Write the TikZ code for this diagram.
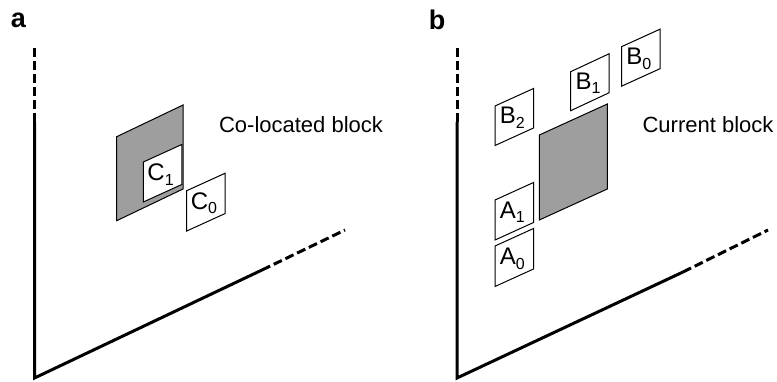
\documentclass[tikz,border=0pt]{standalone}
\usepackage{fontspec}
\setmainfont{Liberation Sans}
\definecolor{panelgray}{RGB}{158,158,158}
% skewed block: name, top-left x, top-left y, width, rise, height, fill
\newcommand\skewblock[7]{%
  \draw[blockline, fill=#7] (#2,#3) -- ++(#4,-#5) -- ++(0,#6) -- ++(-#4,#5) -- cycle;
  \coordinate (#1) at ({#2+#4/2-2},{#3+#6/2-#5/2+1});
}
\newcommand\sublabel[2]{#1\raisebox{-0.2em}{\fontsize{16}{16}\selectfont #2}}
\begin{document}
\begin{tikzpicture}[x=1pt,y=-1pt,
  axis/.style={line width=3pt, line join=miter},
  axisdash/.style={line width=3pt, dash pattern=on 9pt off 4pt},
  blockline/.style={draw=black, line width=1pt},
  blocktext/.style={font=\fontsize{24}{24}\selectfont, inner sep=0pt},
  caption/.style={font=\fontsize{22}{26}\selectfont, inner sep=0pt},
  panel/.style={font=\fontsize{27}{27}\selectfont\bfseries, inner sep=0pt}]
\useasboundingbox (0,0) rectangle (777,381);

% ---- panel a ----
\node[panel] (la) at (18.5,20) {a};
\draw[axisdash] (34.5,48) -- (34.5,122);
\draw[axis] (34.5,122) -- (34.5,378) -- (262,270);
\draw[axisdash] (262,270) -- (345,230);

\skewblock{colocated}{116.7}{136.7}{66.3}{31.7}{84}{panelgray}
\skewblock{c1}{143.3}{162}{38.5}{17.5}{40}{white}
\skewblock{c0}{186.7}{190.7}{38.5}{17.5}{40.3}{white}
\node[blocktext] (tc1) at (c1) {\sublabel{C}{1}};
\node[blocktext] (tc0) at (c0) {\sublabel{C}{0}};
\node[caption] (capa) at (301,125) {Co-located block};

% ---- panel b ----
\node[panel] (lb) at (437,20) {b};
\draw[axisdash] (457,48) -- (457,122);
\draw[axis] (457,122) -- (457,378) -- (683,272);
\draw[axisdash] (683,272) -- (768,230);

\skewblock{current}{539.3}{135}{68}{31}{85}{panelgray}
\skewblock{b2}{495}{106}{38.5}{17.5}{39.5}{white}
\skewblock{b1}{570.7}{71.7}{38.5}{18}{39}{white}
\skewblock{b0}{621.5}{46.7}{38.5}{17.5}{39.5}{white}
\skewblock{a1}{495}{200}{38.5}{17.5}{40}{white}
\skewblock{a0}{495}{246}{38.5}{17.5}{40.5}{white}
\node[blocktext] (tb2) at (b2) {\sublabel{B}{2}};
\node[blocktext] (tb1) at (b1) {\sublabel{B}{1}};
\node[blocktext] (tb0) at (b0) {\sublabel{B}{0}};
\node[blocktext] (ta1) at (a1) {\sublabel{A}{1}};
\node[blocktext] (ta0) at (a0) {\sublabel{A}{0}};
\node[caption] (capb) at (708,125) {Current block};
\end{tikzpicture}
\end{document}
